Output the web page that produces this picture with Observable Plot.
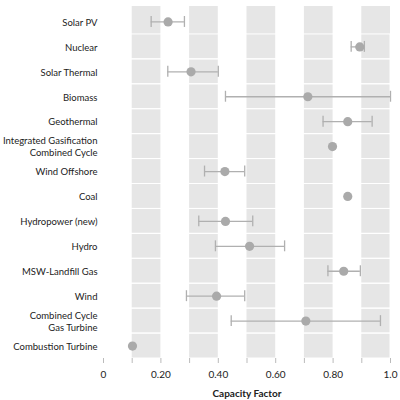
<!DOCTYPE html>
<html>
<head>
<meta charset="utf-8">
<script src="https://cdn.jsdelivr.net/npm/d3@7"></script>
<script src="https://cdn.jsdelivr.net/npm/@observablehq/plot@0.6"></script>
<style>
  html, body { margin: 0; padding: 0; background: #fff; }
  #chart svg { font-family: Lato, "Open Sans", sans-serif; display: block; }
  #chart [aria-label="x-axis label"] text, #chart [aria-label="x-axis label"] { font-weight: bold; font-size: 10px; }
</style>
</head>
<body>
<div id="chart"></div>
<script>
const categories = [
  "Solar PV", "Nuclear", "Solar Thermal", "Biomass", "Geothermal",
  "Integrated Gasification\nCombined Cycle", "Wind Offshore", "Coal",
  "Hydropower (new)", "Hydro", "MSW-Landfill Gas", "Wind",
  "Combined Cycle\nGas Turbine", "Combustion Turbine"
];
const mid  = [0.225, 0.893, 0.305, 0.712, 0.851, 0.798, 0.423, 0.851, 0.425, 0.509, 0.837, 0.394, 0.705, 0.101];
const low  = [0.166, 0.863, 0.224, 0.425, 0.765, null, 0.352, null, 0.332, 0.390, 0.782, 0.289, 0.445, null];
const high = [0.282, 0.909, 0.400, 1.000, 0.936, null, 0.492, null, 0.520, 0.631, 0.895, 0.492, 0.965, null];
const xTicks = [0, 0.1, 0.2, 0.3, 0.4, 0.5, 0.6, 0.7, 0.8, 0.9, 1.0];
const tickLabels = ["0", "", "0.20", "", "0.40", "", "0.60", "", "0.80", "", "1.0"];
const bandStarts = [0.1, 0.3, 0.5, 0.7, 0.9];
const bandEnds   = [0.2, 0.4, 0.6, 0.8, 1.0];

const rows = categories.map((c, i) => ({name: c, mid: mid[i], low: low[i], high: high[i]}));
const whiskers = rows.filter(d => d.low != null);
const bands = bandStarts.map((s, i) => ({x1: s, x2: bandEnds[i]}));

const chart = Plot.plot({
  width: 400,
  height: 400,
  marginTop: 6,
  marginBottom: 42,
  marginLeft: 103,
  marginRight: 10,
  style: {fontSize: "9.5px", fontFamily: "Lato, 'Open Sans', sans-serif", color: "#222"},
  x: {domain: [0, 1]},
  y: {type: "band", domain: categories, padding: 0, round: false, insetTop: 3},
  marks: [
    Plot.rectX(bands, {x1: "x1", x2: "x2", fill: "#e6e6e6"}),
    Plot.barX(categories.slice(1), {y: d => d, x1: 0, x2: 1, fill: "none", stroke: "#ffffff", strokeWidth: 1}),
    Plot.axisY({tickSize: 0, tickPadding: 6, line: true, stroke: "#c8c8c8", fill: "#222", label: null, lineHeight: 1.25}),
    Plot.axisX({ticks: xTicks, tickFormat: (d, i) => tickLabels[i], tickSize: 5, tickPadding: 7, line: true,
      stroke: "#bbb", fill: "#222", label: "Capacity Factor", labelAnchor: "center", labelArrow: "none", labelOffset: 38, fontSize: 10}),
    Plot.ruleY(whiskers, {y: "name", x1: "low", x2: "high", stroke: "#b0b0b0", strokeWidth: 1.3}),
    Plot.tickX(whiskers, {y: "name", x: "low", stroke: "#b0b0b0", strokeWidth: 1.3, inset: 7}),
    Plot.tickX(whiskers, {y: "name", x: "high", stroke: "#b0b0b0", strokeWidth: 1.3, inset: 7}),
    Plot.dot(rows, {y: "name", x: "mid", r: 4.6, fill: "#aaaaaa"})
  ]
});
document.getElementById("chart").appendChild(chart);
</script>
</body>
</html>
